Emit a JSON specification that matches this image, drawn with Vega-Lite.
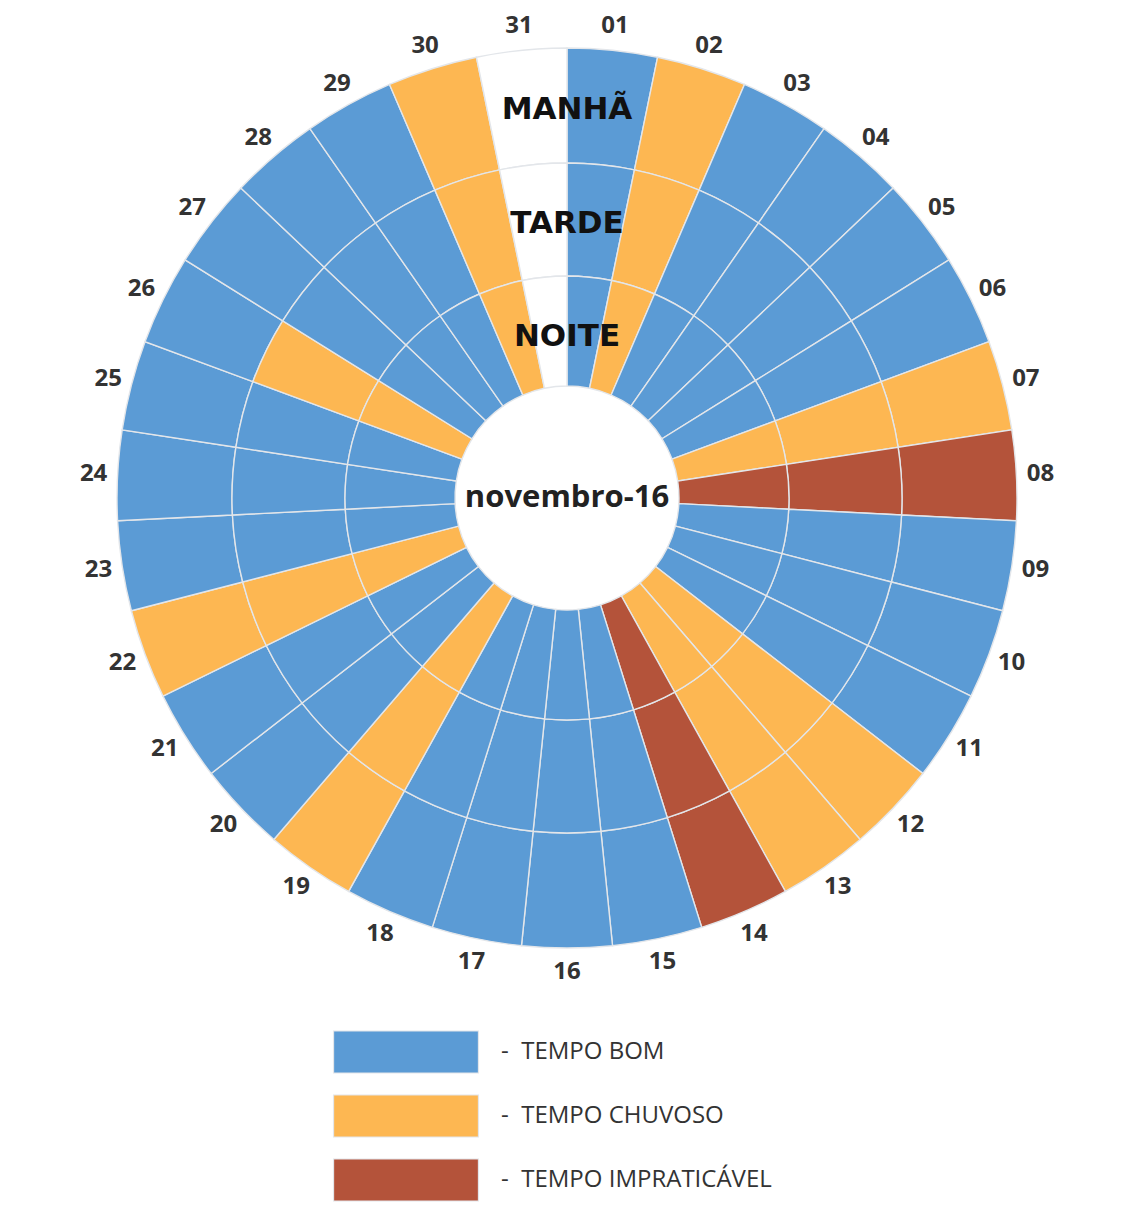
{
  "$schema": "https://vega.github.io/schema/vega-lite/v6.json",
  "width": 1118,
  "height": 996,
  "padding": {"left": 8, "top": 0, "right": 2, "bottom": 0},
  "background": "white",
  "config": {"view": {"stroke": null}},
  "datasets": {
    "cells": [
      {"day":"01","period":"MANHÃ","tempo":"TEMPO BOM"},{"day":"01","period":"TARDE","tempo":"TEMPO BOM"},{"day":"01","period":"NOITE","tempo":"TEMPO BOM"},
      {"day":"02","period":"MANHÃ","tempo":"TEMPO CHUVOSO"},{"day":"02","period":"TARDE","tempo":"TEMPO CHUVOSO"},{"day":"02","period":"NOITE","tempo":"TEMPO CHUVOSO"},
      {"day":"03","period":"MANHÃ","tempo":"TEMPO BOM"},{"day":"03","period":"TARDE","tempo":"TEMPO BOM"},{"day":"03","period":"NOITE","tempo":"TEMPO BOM"},
      {"day":"04","period":"MANHÃ","tempo":"TEMPO BOM"},{"day":"04","period":"TARDE","tempo":"TEMPO BOM"},{"day":"04","period":"NOITE","tempo":"TEMPO BOM"},
      {"day":"05","period":"MANHÃ","tempo":"TEMPO BOM"},{"day":"05","period":"TARDE","tempo":"TEMPO BOM"},{"day":"05","period":"NOITE","tempo":"TEMPO BOM"},
      {"day":"06","period":"MANHÃ","tempo":"TEMPO BOM"},{"day":"06","period":"TARDE","tempo":"TEMPO BOM"},{"day":"06","period":"NOITE","tempo":"TEMPO BOM"},
      {"day":"07","period":"MANHÃ","tempo":"TEMPO CHUVOSO"},{"day":"07","period":"TARDE","tempo":"TEMPO CHUVOSO"},{"day":"07","period":"NOITE","tempo":"TEMPO CHUVOSO"},
      {"day":"08","period":"MANHÃ","tempo":"TEMPO IMPRATICÁVEL"},{"day":"08","period":"TARDE","tempo":"TEMPO IMPRATICÁVEL"},{"day":"08","period":"NOITE","tempo":"TEMPO IMPRATICÁVEL"},
      {"day":"09","period":"MANHÃ","tempo":"TEMPO BOM"},{"day":"09","period":"TARDE","tempo":"TEMPO BOM"},{"day":"09","period":"NOITE","tempo":"TEMPO BOM"},
      {"day":"10","period":"MANHÃ","tempo":"TEMPO BOM"},{"day":"10","period":"TARDE","tempo":"TEMPO BOM"},{"day":"10","period":"NOITE","tempo":"TEMPO BOM"},
      {"day":"11","period":"MANHÃ","tempo":"TEMPO BOM"},{"day":"11","period":"TARDE","tempo":"TEMPO BOM"},{"day":"11","period":"NOITE","tempo":"TEMPO BOM"},
      {"day":"12","period":"MANHÃ","tempo":"TEMPO CHUVOSO"},{"day":"12","period":"TARDE","tempo":"TEMPO CHUVOSO"},{"day":"12","period":"NOITE","tempo":"TEMPO CHUVOSO"},
      {"day":"13","period":"MANHÃ","tempo":"TEMPO CHUVOSO"},{"day":"13","period":"TARDE","tempo":"TEMPO CHUVOSO"},{"day":"13","period":"NOITE","tempo":"TEMPO CHUVOSO"},
      {"day":"14","period":"MANHÃ","tempo":"TEMPO IMPRATICÁVEL"},{"day":"14","period":"TARDE","tempo":"TEMPO IMPRATICÁVEL"},{"day":"14","period":"NOITE","tempo":"TEMPO IMPRATICÁVEL"},
      {"day":"15","period":"MANHÃ","tempo":"TEMPO BOM"},{"day":"15","period":"TARDE","tempo":"TEMPO BOM"},{"day":"15","period":"NOITE","tempo":"TEMPO BOM"},
      {"day":"16","period":"MANHÃ","tempo":"TEMPO BOM"},{"day":"16","period":"TARDE","tempo":"TEMPO BOM"},{"day":"16","period":"NOITE","tempo":"TEMPO BOM"},
      {"day":"17","period":"MANHÃ","tempo":"TEMPO BOM"},{"day":"17","period":"TARDE","tempo":"TEMPO BOM"},{"day":"17","period":"NOITE","tempo":"TEMPO BOM"},
      {"day":"18","period":"MANHÃ","tempo":"TEMPO BOM"},{"day":"18","period":"TARDE","tempo":"TEMPO BOM"},{"day":"18","period":"NOITE","tempo":"TEMPO BOM"},
      {"day":"19","period":"MANHÃ","tempo":"TEMPO CHUVOSO"},{"day":"19","period":"TARDE","tempo":"TEMPO CHUVOSO"},{"day":"19","period":"NOITE","tempo":"TEMPO CHUVOSO"},
      {"day":"20","period":"MANHÃ","tempo":"TEMPO BOM"},{"day":"20","period":"TARDE","tempo":"TEMPO BOM"},{"day":"20","period":"NOITE","tempo":"TEMPO BOM"},
      {"day":"21","period":"MANHÃ","tempo":"TEMPO BOM"},{"day":"21","period":"TARDE","tempo":"TEMPO BOM"},{"day":"21","period":"NOITE","tempo":"TEMPO BOM"},
      {"day":"22","period":"MANHÃ","tempo":"TEMPO CHUVOSO"},{"day":"22","period":"TARDE","tempo":"TEMPO CHUVOSO"},{"day":"22","period":"NOITE","tempo":"TEMPO CHUVOSO"},
      {"day":"23","period":"MANHÃ","tempo":"TEMPO BOM"},{"day":"23","period":"TARDE","tempo":"TEMPO BOM"},{"day":"23","period":"NOITE","tempo":"TEMPO BOM"},
      {"day":"24","period":"MANHÃ","tempo":"TEMPO BOM"},{"day":"24","period":"TARDE","tempo":"TEMPO BOM"},{"day":"24","period":"NOITE","tempo":"TEMPO BOM"},
      {"day":"25","period":"MANHÃ","tempo":"TEMPO BOM"},{"day":"25","period":"TARDE","tempo":"TEMPO BOM"},{"day":"25","period":"NOITE","tempo":"TEMPO BOM"},
      {"day":"26","period":"MANHÃ","tempo":"TEMPO BOM"},{"day":"26","period":"TARDE","tempo":"TEMPO CHUVOSO"},{"day":"26","period":"NOITE","tempo":"TEMPO CHUVOSO"},
      {"day":"27","period":"MANHÃ","tempo":"TEMPO BOM"},{"day":"27","period":"TARDE","tempo":"TEMPO BOM"},{"day":"27","period":"NOITE","tempo":"TEMPO BOM"},
      {"day":"28","period":"MANHÃ","tempo":"TEMPO BOM"},{"day":"28","period":"TARDE","tempo":"TEMPO BOM"},{"day":"28","period":"NOITE","tempo":"TEMPO BOM"},
      {"day":"29","period":"MANHÃ","tempo":"TEMPO BOM"},{"day":"29","period":"TARDE","tempo":"TEMPO BOM"},{"day":"29","period":"NOITE","tempo":"TEMPO BOM"},
      {"day":"30","period":"MANHÃ","tempo":"TEMPO CHUVOSO"},{"day":"30","period":"TARDE","tempo":"TEMPO CHUVOSO"},{"day":"30","period":"NOITE","tempo":"TEMPO CHUVOSO"},
      {"day":"31","period":"MANHÃ","tempo":"SEM REGISTRO"},{"day":"31","period":"TARDE","tempo":"SEM REGISTRO"},{"day":"31","period":"NOITE","tempo":"SEM REGISTRO"}
    ],
    "rings": [{"period":"MANHÃ"},{"period":"TARDE"},{"period":"NOITE"}],
    "center": [{"label":"novembro-16"}]
  },
  "layer": [
    {
      "data": {"name": "cells"},
      "transform": [{"filter": "datum.period === 'MANHÃ'"}],
      "mark": {"type": "arc", "radius": 450, "radius2": 335, "stroke": "#e3e6ea", "strokeWidth": 1.4},
      "encoding": {
        "theta": {"aggregate": "count", "type": "quantitative", "stack": true, "scale": {"domain": [0, 31]}},
        "order": {"field": "day", "type": "ordinal"},
        "color": {
          "field": "tempo", "type": "nominal",
          "scale": {"domain": ["TEMPO BOM","TEMPO CHUVOSO","TEMPO IMPRATICÁVEL","SEM REGISTRO"], "range": ["#5B9BD5","#FDB752","#B4533A","#FFFFFF"]},
          "legend": {
            "title": null, "orient": "none", "legendX": 376, "legendY": 1030, "direction": "vertical",
            "values": ["TEMPO BOM","TEMPO CHUVOSO","TEMPO IMPRATICÁVEL"],
            "symbolType": "M-3.45,-1H3.45V1H-3.45Z", "symbolSize": 1764,
            "symbolStrokeColor": "rgba(40,40,40,0.45)", "symbolStrokeWidth": 1.2, "symbolOpacity": 1,
            "labelFont": "Open Sans", "labelFontSize": 24, "labelColor": "#333333", "labelOffset": 73,
            "rowPadding": 16, "padding": 0, "labelLimit": 500, "labelExpr": "'-\u00a0\u00a0' + datum.label"
          }
        }
      }
    },
    {
      "data": {"name": "cells"},
      "transform": [{"filter": "datum.period === 'TARDE'"}],
      "mark": {"type": "arc", "radius": 335, "radius2": 222, "stroke": "#e3e6ea", "strokeWidth": 1.4},
      "encoding": {
        "theta": {"aggregate": "count", "type": "quantitative", "stack": true},
        "order": {"field": "day", "type": "ordinal"},
        "color": {"field": "tempo", "type": "nominal"}
      }
    },
    {
      "data": {"name": "cells"},
      "transform": [{"filter": "datum.period === 'NOITE'"}],
      "mark": {"type": "arc", "radius": 222, "radius2": 112, "stroke": "#e3e6ea", "strokeWidth": 1.4},
      "encoding": {
        "theta": {"aggregate": "count", "type": "quantitative", "stack": true},
        "order": {"field": "day", "type": "ordinal"},
        "color": {"field": "tempo", "type": "nominal"}
      }
    },
    {
      "data": {"name": "cells"},
      "transform": [{"filter": "datum.period === 'MANHÃ'"}],
      "mark": {"type": "text", "radius": 474, "font": "Open Sans", "fontWeight": "bold", "fontSize": 24, "fill": "#333333", "baseline": "middle", "align": "center"},
      "encoding": {
        "theta": {"aggregate": "count", "type": "quantitative", "stack": true},
        "order": {"field": "day", "type": "ordinal"},
        "text": {"field": "day", "type": "nominal"}
      }
    },
    {
      "data": {"name": "rings"},
      "mark": {"type": "text", "font": "DejaVu Sans", "fontWeight": "bold", "fontSize": 31, "fill": "#111111", "baseline": "middle", "align": "center"},
      "encoding": {
        "theta": {"datum": 0, "type": "quantitative"},
        "radius": {"field": "period", "type": "ordinal", "scale": {"type": "point", "domain": ["NOITE","TARDE","MANHÃ"], "range": [161, 388], "padding": 0}},
        "text": {"field": "period", "type": "nominal"}
      }
    },
    {
      "data": {"name": "center"},
      "mark": {"type": "text", "font": "Open Sans", "fontWeight": "bold", "fontSize": 31, "fill": "#222222", "baseline": "middle", "align": "center"},
      "encoding": {
        "text": {"field": "label", "type": "nominal"}
      }
    }
  ]
}
